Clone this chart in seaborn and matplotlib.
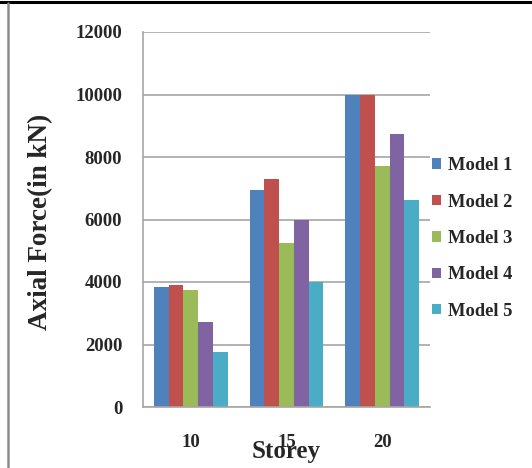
import matplotlib
matplotlib.use("Agg")
import matplotlib.pyplot as plt
from matplotlib.lines import Line2D
import seaborn as sns
import pandas as pd

storeys = ["10", "15", "20"]
models = ["Model 1", "Model 2", "Model 3", "Model 4", "Model 5"]
model1 = [3840, 6930, 10000]
model2 = [3920, 7290, 10000]
model3 = [3760, 5240, 7710]
model4 = [2730, 6000, 8730]
model5 = [1750, 3990, 6640]
y_ticks = [0, 2000, 4000, 6000, 8000, 10000, 12000]
colors = ["#4F81BD", "#C0504D", "#9BBB59", "#8064A2", "#4BACC6"]

series = [model1, model2, model3, model4, model5]
df = pd.DataFrame(
    [(s, m, v) for m, vals in zip(models, series) for s, v in zip(storeys, vals)],
    columns=["Storey", "Model", "Force"],
)

sns.set_style("white")
plt.rcParams["font.family"] = ["Liberation Serif", "DejaVu Serif"]
plt.rcParams["font.weight"] = "bold"

fig = plt.figure(figsize=(5.32, 4.68), dpi=100)
ax = fig.add_axes([143 / 532, 1 - 407 / 468, (430 - 143) / 532, (407 - 32) / 468])

sns.barplot(
    data=df, x="Storey", y="Force", hue="Model", order=storeys, hue_order=models,
    palette=colors, width=5 / 6.5, linewidth=0, saturation=1, ax=ax, legend=True,
)

ax.set_ylim(0, 12000)
ax.set_xlim(-0.5, 2.5)
ax.set_yticks(y_ticks)
ax.set_yticklabels([str(t) for t in y_ticks], fontsize=13.5, fontweight="bold")
ax.set_xticklabels(storeys, fontsize=13.5, fontweight="bold")
ax.yaxis.grid(True, color="#A6A6A6", linewidth=1.2)
ax.set_axisbelow(True)
for side in ["top", "right"]:
    ax.spines[side].set_visible(False)
for side in ["left", "bottom"]:
    ax.spines[side].set_color("#A6A6A6")
    ax.spines[side].set_linewidth(1.2)
ax.tick_params(axis="y", length=0, pad=15)
ax.tick_params(axis="x", length=0, pad=19.4)

ax.set_ylabel("Axial Force(in kN)", fontsize=19.5, fontweight="bold")
ax.yaxis.set_label_coords(-(143 - 53) / 287, 0.5 - (221.5 - 219.5) / 375)
ax.set_xlabel("Storey", fontsize=18, fontweight="bold")
ax.xaxis.set_label_coords(0.5, -(440 - 407) / 375)

handles, labels = ax.get_legend_handles_labels()
ax.legend(
    handles, labels, loc="center left", bbox_to_anchor=(432 / 532, 1 - 238.5 / 468),
    bbox_transform=fig.transFigure, frameon=False, prop={"size": 13.3, "weight": "bold"},
    handlelength=0.5, handleheight=0.5, handletextpad=0.35, labelspacing=1.05,
    borderpad=0, borderaxespad=0,
)

# frame around the figure
fig.add_artist(Line2D([0, 1], [1 - 1.5 / 468] * 2, transform=fig.transFigure,
                      color="black", linewidth=2.2))
fig.add_artist(Line2D([7.5 / 532] * 2, [0, 1 - 3 / 468], transform=fig.transFigure,
                      color="#8C8C8C", linewidth=1.8))

fig.savefig("out.png", dpi=100)
